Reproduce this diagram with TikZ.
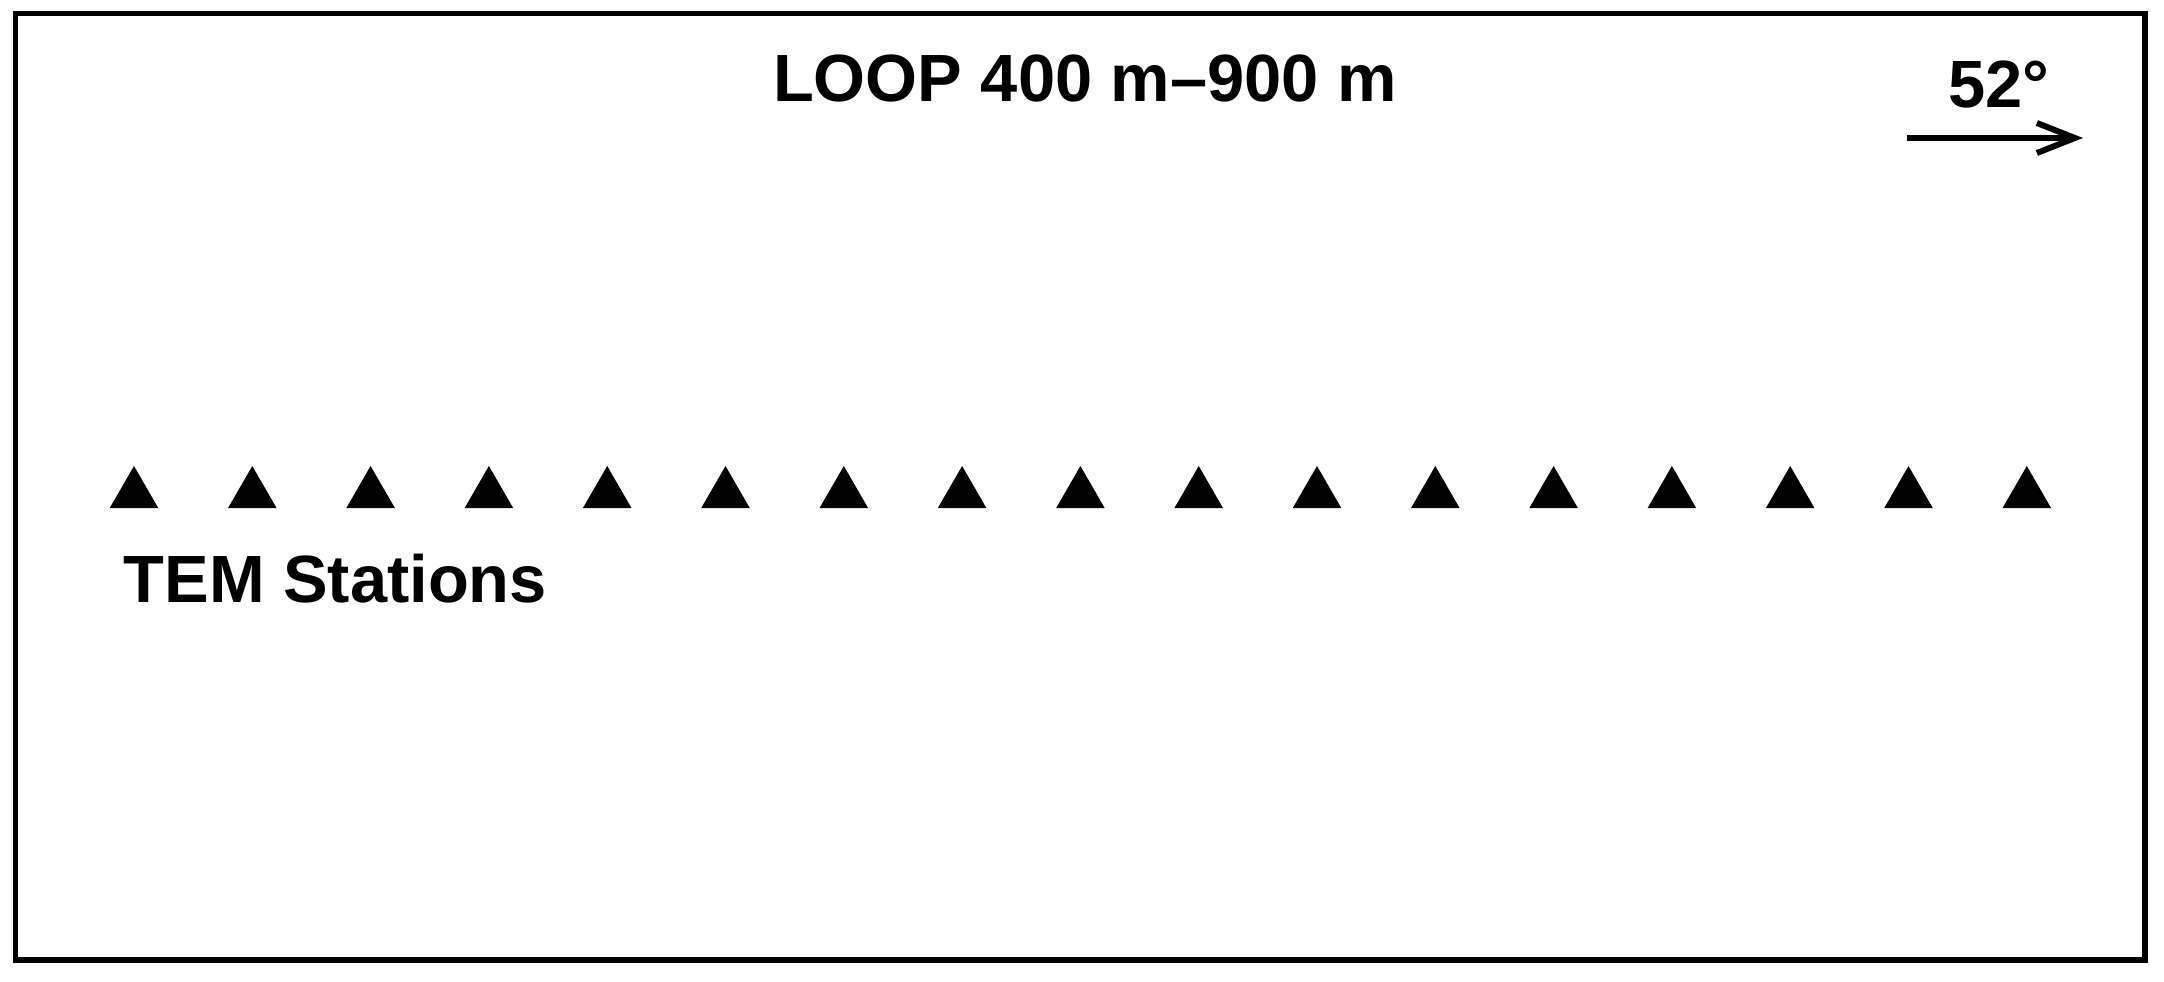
\documentclass[tikz,border=0pt]{standalone}
\usepackage{fontspec}
\setmainfont{Liberation Sans}
\usetikzlibrary{shapes.geometric,arrows.meta}

\tikzset{
  station/.style={regular polygon,regular polygon sides=3,fill=black,
    inner sep=0pt,minimum size=0.56cm},
  lbl/.style={font=\fontsize{19}{23}\selectfont\bfseries,inner sep=0pt}
}

\begin{document}
\begin{tikzpicture}[x=0.01cm,y=-0.01cm,>={Straight Barb[length=3.8mm,width=3mm]}]
\useasboundingbox (0,0) rectangle (2164,982);
\draw[line width=1.7pt] (15.5,13.5) rectangle (2145,959.5);
\node[lbl,anchor=base] (title) at (1085,102) {LOOP 400 m\textendash900 m};
\node[lbl,anchor=base] (deg) at (1999,108) {52°};
\coordinate (n0) at (1907,138);
\coordinate (n1) at (2083,138);
\draw[->,line width=1.7pt] (n0) -- (n1);
\foreach \i in {0,...,16}
  \node[station] (s\i) at (134+118.3*\i,494) {};
\node[lbl,anchor=base west] (tem) at (123,602) {TEM Stations};
\end{tikzpicture}
\end{document}
